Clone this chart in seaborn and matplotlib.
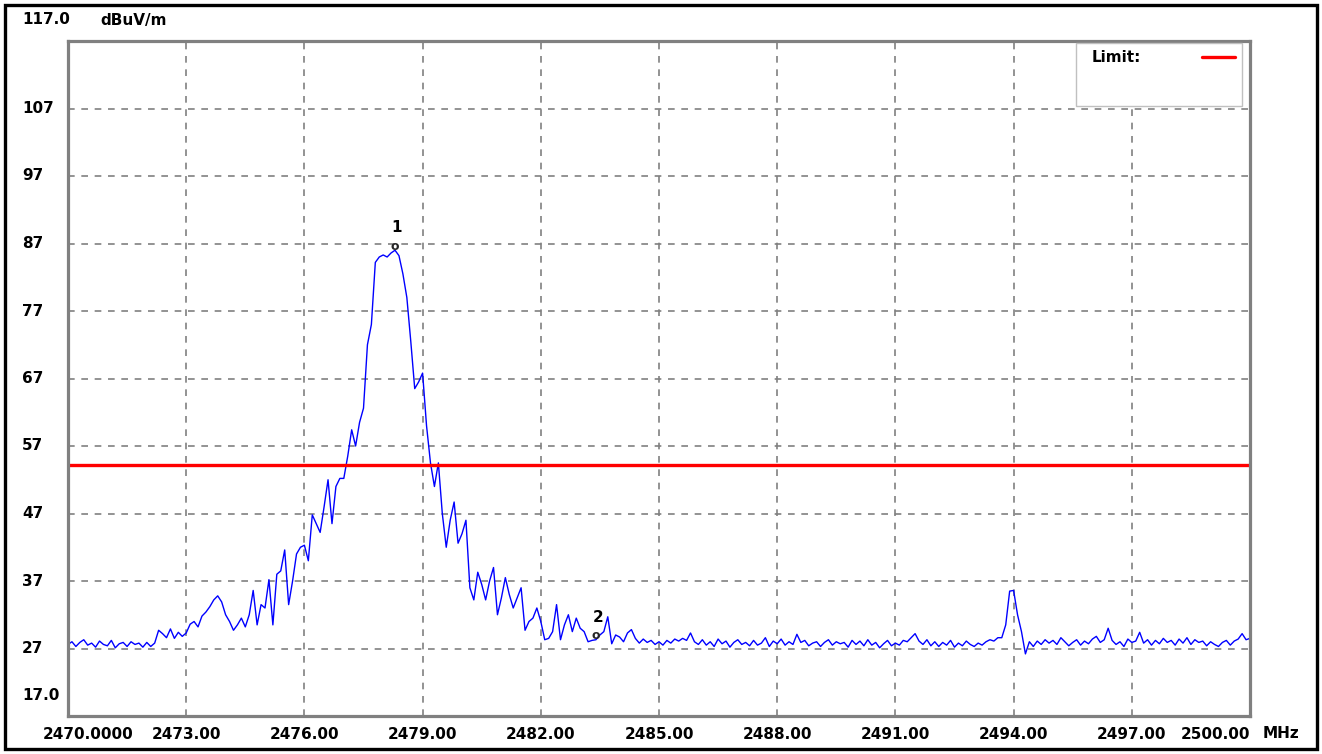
import numpy as np
import pandas as pd
import matplotlib
matplotlib.use("Agg")
import matplotlib.pyplot as plt
import matplotlib.transforms as mtransforms
from matplotlib.patches import Rectangle
from matplotlib.lines import Line2D
import seaborn as sns

# sweep settings (MHz)
f_start = 2470.0
f_stop = 2500.0
f_step = 0.1

level = [
    27.6, 28.0, 27.3, 27.9, 28.3, 27.5, 27.8, 27.2, 28.1, 27.6,  # 2470
    27.4, 28.2, 27.1, 27.7, 27.9, 27.3, 28.0, 27.6, 27.8, 27.2,  # 2471
    27.9, 27.3, 27.8, 29.7, 29.2, 28.6, 29.9, 28.5, 29.4, 28.8,  # 2472
    29.3, 30.6, 31.0, 30.2, 31.8, 32.4, 33.2, 34.2, 34.8, 33.9,  # 2473
    32.0, 31.0, 29.7, 30.5, 31.5, 30.2, 32.0, 35.6, 30.5, 33.5,  # 2474
    33.0, 37.2, 30.5, 38.0, 38.5, 41.6, 33.5, 37.0, 41.0, 42.0,  # 2475
    42.3, 40.0, 46.8, 45.5, 44.2, 48.0, 52.0, 45.5, 51.0, 52.2,  # 2476
    52.2, 55.5, 59.4, 57.0, 60.5, 62.6, 72.0, 75.0, 84.2, 85.0,  # 2477
    85.3, 85.0, 85.6, 86.0, 85.2, 82.5, 79.0, 72.5, 65.5, 66.5,  # 2478
    67.8, 60.0, 54.5, 51.0, 54.5, 47.0, 42.0, 46.0, 48.7, 42.6,  # 2479
    44.0, 46.0, 36.0, 34.2, 38.3, 36.5, 34.2, 37.0, 39.0, 32.0,  # 2480
    34.5, 37.5, 35.0, 33.0, 34.5, 36.0, 29.7, 31.0, 31.5, 33.0,  # 2481
    31.0, 28.3, 28.5, 29.5, 33.5, 28.3, 30.5, 32.0, 29.5, 31.5,  # 2482
    30.0, 29.5, 28.0, 28.2, 28.3, 29.0, 29.5, 31.7, 27.7, 29.0,  # 2483
    28.7, 28.0, 29.3, 29.8, 28.5, 27.8, 28.4, 27.9, 28.2, 27.6,  # 2484
    28.0, 27.5, 28.2, 27.8, 28.4, 28.1, 28.5, 28.2, 29.3, 28.0,  # 2485
    27.6, 28.3, 27.5, 28.0, 27.3, 28.4, 27.7, 28.1, 27.2, 27.9,  # 2486
    28.3, 27.6, 27.9, 27.4, 28.2, 27.5, 27.8, 28.6, 27.3, 28.1,  # 2487
    27.7, 28.4, 27.5, 28.0, 27.6, 29.1, 27.9, 28.2, 27.4, 27.8,  # 2488
    28.0, 27.3, 27.9, 28.3, 27.5, 28.0, 27.7, 27.9, 27.2, 28.2,  # 2489
    27.6, 28.1, 27.4, 28.3, 27.5, 27.9, 27.1, 27.7, 28.2, 27.4,  # 2490
    27.8, 27.5, 28.2, 28.0, 28.6, 29.2, 28.1, 27.6, 28.3, 27.4,  # 2491
    28.0, 27.3, 27.9, 27.5, 28.2, 27.2, 27.8, 27.4, 28.1, 27.6,  # 2492
    27.3, 27.8, 27.5, 28.0, 28.3, 28.1, 28.6, 28.6, 30.5, 35.5,  # 2493
    35.6, 32.0, 29.5, 26.2, 28.0, 27.3, 28.1, 27.6, 28.3, 27.8,  # 2494
    28.2, 27.6, 28.6, 28.0, 27.4, 27.9, 28.3, 27.5, 28.1, 27.7,  # 2495
    28.4, 28.8, 27.9, 28.3, 30.0, 28.2, 27.6, 28.0, 27.3, 28.4,  # 2496
    27.9, 28.1, 29.4, 27.8, 28.3, 27.5, 28.2, 27.7, 28.5, 27.9,  # 2497
    28.2, 27.5, 28.4, 27.8, 28.6, 27.6, 28.3, 27.9, 28.1, 27.4,  # 2498
    28.0, 27.6, 27.3, 27.9, 28.2, 27.5, 28.1, 28.4, 29.2, 28.3,  # 2499
    28.5,
]

limit_level = 54.2

# markers: label, frequency, level
marker_labels = ["1", "2"]
marker_freq = [2478.3, 2483.4]
marker_level = [86.0, 28.3]

x_ticks = [2470, 2473, 2476, 2479, 2482, 2485, 2488, 2491, 2494, 2497, 2500]
x_tick_labels = ["2470.0000", "2473.00", "2476.00", "2479.00", "2482.00", "2485.00",
                 "2488.00", "2491.00", "2494.00", "2497.00", "2500.00"]
y_ticks = [117, 107, 97, 87, 77, 67, 57, 47, 37, 27, 17]
y_tick_labels = ["117.0", "107", "97", "87", "77", "67", "57", "47", "37", "27", "17.0"]

freq = np.round(np.arange(f_start, f_stop + f_step / 2, f_step), 2)
df = pd.DataFrame({"freq": freq, "level": level})

sns.set_style("white")
plt.rcParams["font.family"] = ["DejaVu Sans"]

W, H = 1322, 754
fig = plt.figure(figsize=(W / 100, H / 100), dpi=100)
fig.patch.set_facecolor("white")
ax = fig.add_axes([68 / W, 38 / H, 1182 / W, 675 / H])

sns.lineplot(data=df, x="freq", y="level", ax=ax, color="#0000ff",
             linewidth=1.0, estimator=None)
ax.axhline(limit_level, color="#ff0000", linewidth=2.4)

ax.set_xlim(f_start, f_stop)
ax.set_ylim(17, 117)
ax.set_xticks(x_ticks[1:-1])
ax.set_yticks(y_ticks[1:-1])
ax.tick_params(length=0, labelbottom=False, labelleft=False)
ax.set_xlabel("")
ax.set_ylabel("")
ax.grid(True, color="#808080", linestyle=(0, (4, 4)), linewidth=1.2)
for sp in ax.spines.values():
    sp.set_visible(True)
    sp.set_color("#808080")
    sp.set_linewidth(2.3)

font = dict(fontsize=11, fontweight="bold", color="black")

# x tick labels
xtr = ax.get_xaxis_transform()
for i, (xv, lab) in enumerate(zip(x_ticks, x_tick_labels)):
    if i == 0:
        ax.text(xv, -0.027, lab, transform=xtr + mtransforms.ScaledTranslation(-25 / 100, 0, fig.dpi_scale_trans),
                ha="left", va="center", **font)
    elif i == len(x_ticks) - 1:
        ax.text(xv, -0.027, lab, transform=xtr, ha="right", va="center", **font)
    else:
        ax.text(xv, -0.027, lab, transform=xtr, ha="center", va="center", **font)
ax.text(1263 / W, 20 / H, "MHz", transform=fig.transFigure, ha="left", va="center", **font)

# y tick labels
ytr = mtransforms.blended_transform_factory(fig.transFigure, ax.transData)
for yv, lab in zip(y_ticks, y_tick_labels):
    if yv == 117:
        fig.text(22 / W, (H - 20) / H, lab, ha="left", va="center", **font)
    elif yv == 17:
        fig.text(22 / W, (H - 695) / H, lab, ha="left", va="center", **font)
    else:
        ax.text(22 / W, yv, lab, transform=ytr, ha="left", va="center", clip_on=False, **font)
fig.text(100 / W, (H - 20) / H, "dBuV/m", ha="left", va="center", **font)

# markers
for lab, mf, ml in zip(marker_labels, marker_freq, marker_level):
    ax.text(mf, ml + 0.6, "o", ha="center", va="center", fontsize=9, fontweight="bold")
    ax.text(mf + 0.05, ml + 3.3, lab, ha="center", va="center", **font)

# legend box
fig.patches.append(Rectangle((1076 / W, (H - 106) / H), 166 / W, 63 / H,
                             transform=fig.transFigure, fill=True, facecolor="white",
                             edgecolor="#c0c0c0", linewidth=1.0, zorder=5))
fig.text(1092 / W, (H - 57) / H, "Limit:", ha="left", va="center", zorder=6, **font)
fig.lines.append(Line2D([1202 / W, 1235 / W], [(H - 57) / H, (H - 57) / H],
                        transform=fig.transFigure, color="#ff0000", linewidth=2.4, zorder=6))

# outer frame
fig.patches.append(Rectangle((5 / W, 5 / H), 1312 / W, 744 / H, transform=fig.transFigure,
                             fill=False, edgecolor="black", linewidth=2.4))

fig.savefig("out.png", dpi=100, facecolor="white")
